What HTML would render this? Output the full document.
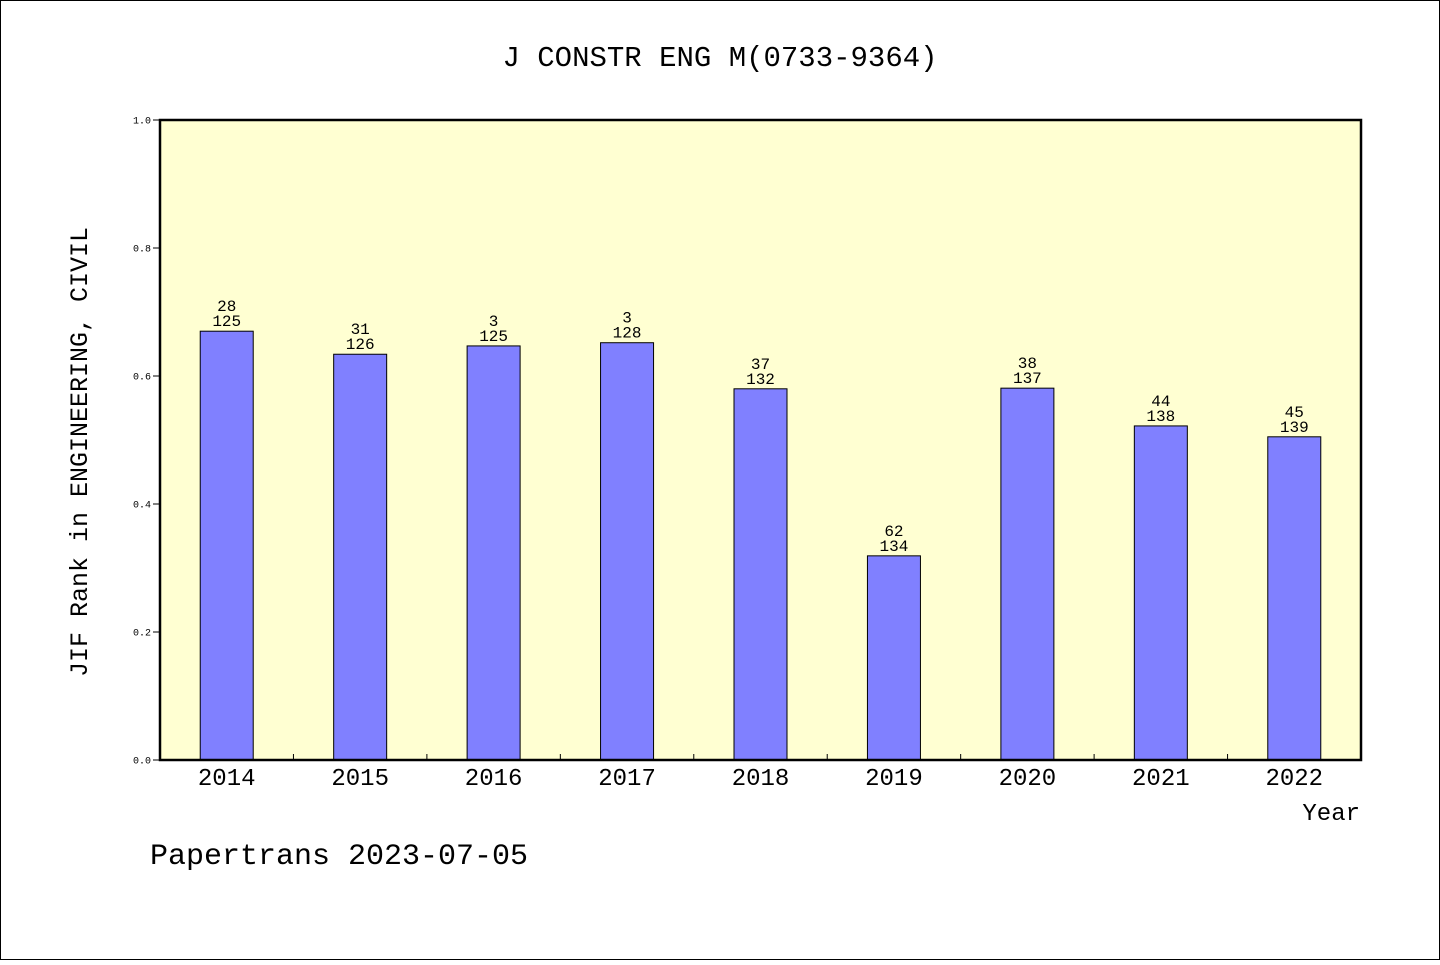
<!DOCTYPE html>
<html><head><meta charset="utf-8"><style>
body{margin:0;background:#fff}
svg text{font-family:"Liberation Mono","WenQuanYi Zen Hei",monospace;fill:#000}
</style></head><body>
<svg id="chart" width="1440" height="960" xmlns="http://www.w3.org/2000/svg">
<rect x="0.5" y="0.5" width="1439" height="959" fill="#fff" stroke="#000"/>
<text x="720" y="66" text-anchor="middle" font-size="29">J CONSTR ENG M(0733-9364)</text>
<rect x="160" y="120" width="1201" height="640" fill="#ffffd2"/>
<g id="bars"></g>
<rect x="160" y="120" width="1201" height="640" fill="none" stroke="#000" stroke-width="2.5"/>
<text transform="translate(87,452) rotate(-90)" text-anchor="middle" font-size="25">JIF Rank in ENGINEERING, CIVIL</text>
<text x="1360" y="820" text-anchor="end" font-size="24">Year</text>
<text x="150" y="864" font-size="30">Papertrans 2023-07-05</text>
</svg>
<script>
const years=["2014","2015","2016","2017","2018","2019","2020","2021","2022"];
const values=[0.670,0.634,0.647,0.652,0.580,0.319,0.581,0.522,0.505];
const ranks=["28","31","3","3","37","62","38","44","45"];
const totals=["125","126","125","128","132","134","137","138","139"];
const yTicks=[0,0.2,0.4,0.6,0.8,1.0];
const NS="http://www.w3.org/2000/svg";
const svg=document.getElementById('chart'), g=document.getElementById('bars');
const x0=160,x1=1361,y0=760,y1=120;
const bw=(x1-x0)/years.length;
const yS=v=>y0-(y0-y1)*v;
const xC=i=>x0+bw*(i+0.5);
function mk(t,a,p){const e=document.createElementNS(NS,t);for(const k in a)e.setAttribute(k,a[k]);(p||svg).appendChild(e);return e;}
years.forEach((yr,i)=>{
 const r=mk('rect',{x:xC(i)-26.5,y:yS(values[i]),width:53,height:y0-yS(values[i]),fill:'#8080ff',stroke:'#000','stroke-width':1},g);
 
 
 const t1=mk('text',{x:xC(i),y:yS(values[i])-20,'text-anchor':'middle','font-size':16});t1.textContent=ranks[i];
 
 
 const t2=mk('text',{x:xC(i),y:yS(values[i])-5,'text-anchor':'middle','font-size':16});t2.textContent=totals[i];
 
 
 const xl=mk('text',{x:xC(i),y:785,'text-anchor':'middle','font-size':24});xl.textContent=yr;
 
 
 if(i>0){const tk=mk('line',{x1:x0+bw*i,x2:x0+bw*i,y1:y0,y2:y0-6,stroke:'#000'});
 
 }
});
yTicks.forEach(v=>{
 const l=mk('line',{x1:153,x2:160,y1:yS(v),y2:yS(v),stroke:'#000'});
 
 
 const t=mk('text',{x:151,y:yS(v)+3.5,'text-anchor':'end','font-size':10});t.textContent=v.toFixed(1);
 
 
});
</script>
</body></html>
